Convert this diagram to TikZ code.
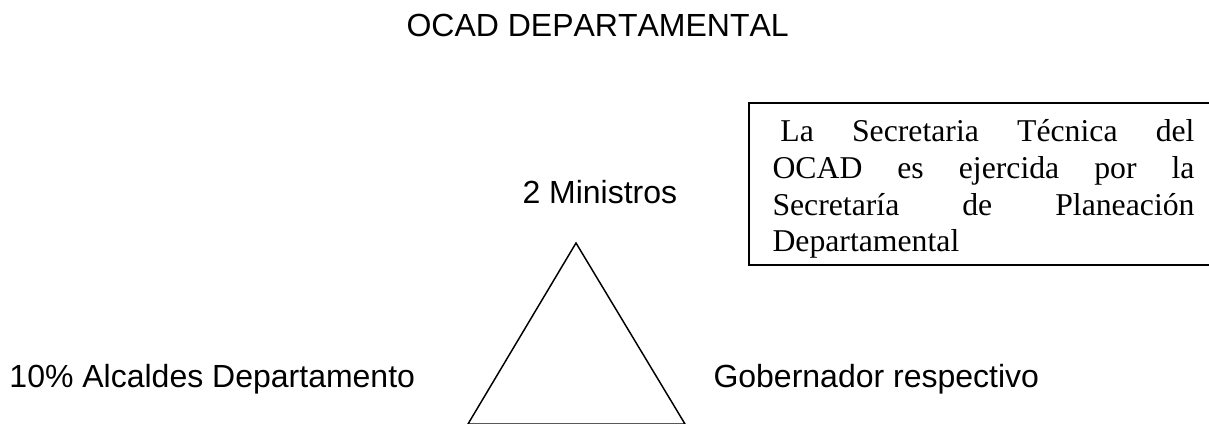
\documentclass[tikz,border=0pt]{standalone}
\usepackage{fontspec}
\setmainfont{Liberation Serif}
\setsansfont{Liberation Sans}[Kerning=Off]
\tikzset{every picture/.style={line width=0.75pt}}
\tikzset{
  etiqueta/.style={anchor=base west, inner sep=0pt, font=\sffamily\fontsize{24pt}{27.6pt}\selectfont},
  nota/.style={anchor=base west, inner sep=0pt, text width=316.5pt, align=justify, font=\rmfamily\fontsize{23.8pt}{27.4pt}\selectfont}
}

\begin{document}
\begin{tikzpicture}[x=0.75pt,y=0.75pt,yscale=-1,xscale=1]
\useasboundingbox (0,0) rectangle (1209,424);

%Shape: Triangle
\coordinate (cima) at (576,243);
\coordinate (izq) at (468,424);
\coordinate (der) at (685,424);
\draw [line width=1.1pt] (izq) -- (cima) -- (der) -- cycle ;

%Shape: Rectangle (open on the right)
\draw [line width=1.4pt] (1213,103) -- (749,103) -- (749,265) -- (1213,265) ;

% Text Node
\node [etiqueta] (titulo) at (406,37) {OCAD DEPARTAMENTAL};
% Text Node
\node [etiqueta] (ministros) at (522,203) {2 Ministros};
% Text Node
\node [etiqueta] (alcaldes) at (9,387) {10\% Alcaldes Departamento};
% Text Node
\node [etiqueta] (gobernador) at (713,387) {Gobernador respectivo};
% Text Node
\node [nota] (secretaria) at (772,142) {\hspace*{0.25em}La Secretaria Técnica del\linebreak OCAD es ejercida por la\linebreak Secretaría de Planeación\linebreak Departamental};

\end{tikzpicture}
\end{document}
